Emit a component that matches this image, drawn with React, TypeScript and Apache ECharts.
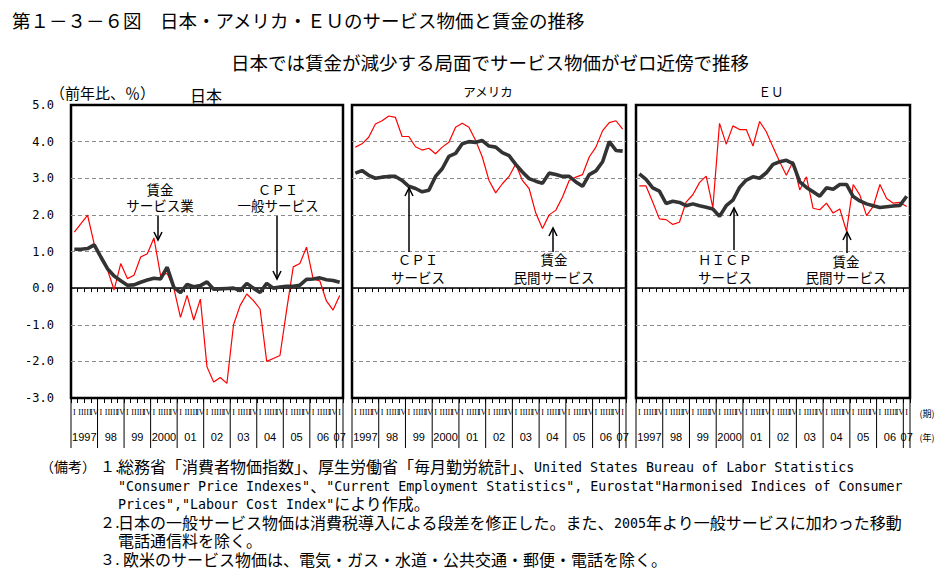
import { useEffect, useRef } from "react";
import * as echarts from "echarts";

// ---- data ----
const yearLabels = ["1997", "98", "99", "2000", "01", "02", "03", "04", "05", "06", "07"];
const quarterLabels = ["I", "II", "III", "IV"];
const quartersPerYear = [4, 4, 4, 4, 4, 4, 4, 4, 4, 4, 1];
const categories: string[] = [];
yearLabels.forEach((y, yi) => {
  for (let q = 0; q < quartersPerYear[yi]; q++) categories.push(`${y}-${quarterLabels[q]}`);
});

const panelTitles = ["日本", "アメリカ", "ＥＵ"];

// Japan: wage (service industry), CPI general services
const japanWage = [1.53, 1.76, 1.99, 1.2, 0.8, 0.5, -0.05, 0.67, 0.26, 0.35, 0.85, 0.94, 1.37, 0.35, 0.4, 0.0, -0.8, -0.2, -0.87, -0.3, -2.15, -2.56, -2.44, -2.6, -1.0, -0.47, -0.16, -0.34, -0.57, -2.0, -1.92, -1.84, -0.6, 0.58, 0.67, 1.12, 0.25, 0.2, -0.35, -0.6, -0.2];
const japanCPI = [1.06, 1.06, 1.08, 1.18, 0.85, 0.53, 0.33, 0.2, 0.08, 0.09, 0.16, 0.22, 0.27, 0.25, 0.57, 0.02, -0.12, 0.1, 0.04, 0.07, 0.17, -0.03, -0.02, -0.01, 0.0, -0.07, 0.13, 0.0, -0.12, 0.13, 0.0, 0.03, 0.05, 0.05, 0.08, 0.24, 0.25, 0.28, 0.23, 0.21, 0.16];
// USA: wage (private services), CPI services
const usWage = [3.85, 3.94, 4.12, 4.48, 4.57, 4.7, 4.66, 4.14, 4.14, 3.86, 3.77, 3.82, 3.67, 3.85, 3.98, 4.39, 4.5, 4.39, 4.03, 3.58, 2.94, 2.6, 2.85, 3.05, 3.39, 2.94, 2.72, 2.05, 1.63, 2.0, 2.13, 2.49, 2.94, 3.03, 3.1, 3.58, 3.85, 4.3, 4.52, 4.57, 4.34];
const usCPI = [3.14, 3.21, 3.08, 3.0, 3.03, 3.05, 3.05, 2.94, 2.78, 2.72, 2.63, 2.67, 3.05, 3.26, 3.6, 3.68, 3.94, 4.0, 3.98, 4.03, 3.88, 3.85, 3.7, 3.62, 3.38, 3.17, 2.99, 2.92, 2.86, 3.14, 3.1, 3.05, 3.05, 2.9, 2.78, 3.1, 3.2, 3.45, 4.0, 3.76, 3.74];
// EU: wage (private services), HICP services
const euWage = [2.79, 2.79, 2.35, 1.89, 1.87, 1.74, 1.8, 2.35, 2.55, 2.88, 3.06, 2.2, 4.5, 3.93, 4.43, 4.33, 4.33, 3.88, 4.55, 4.27, 3.85, 3.45, 3.08, 3.46, 2.68, 3.04, 2.18, 2.14, 2.32, 2.05, 2.16, 1.55, 2.83, 2.54, 1.98, 2.23, 2.83, 2.45, 2.32, 2.34, 2.23];
const euCPI = [3.12, 2.97, 2.74, 2.65, 2.31, 2.37, 2.34, 2.25, 2.3, 2.25, 2.21, 2.16, 1.96, 2.25, 2.4, 2.75, 2.95, 3.04, 3.0, 3.15, 3.38, 3.45, 3.49, 3.4, 2.9, 2.75, 2.63, 2.51, 2.74, 2.7, 2.83, 2.83, 2.5, 2.38, 2.3, 2.25, 2.2, 2.22, 2.24, 2.26, 2.51];

const wageSeries = [japanWage, usWage, euWage];
const cpiSeries = [japanCPI, usCPI, euCPI];
const yMin = -3;
const yMax = 5;
const yStep = 1;

const title = "第１－３－６図　日本・アメリカ・ＥＵのサービス物価と賃金の推移";
const subtitle = "日本では賃金が減少する局面でサービス物価がゼロ近傍で推移";
const unitLabel = "（前年比、％）";
const notes = [
  { num: "（備考）", numX: 40, text: "", x: 118 },
  { num: "１.", numX: 100, text: "総務省「消費者物価指数」、厚生労働省「毎月勤労統計」、United States Bureau of Labor Statistics", x: 118 },
  { num: "", numX: 0, text: "\"Consumer Price Indexes\"、\"Current Employment Statistics\", Eurostat\"Harmonised Indices of Consumer", x: 118 },
  { num: "", numX: 0, text: "Prices\",\"Labour Cost Index\"により作成。", x: 118 },
  { num: "２.", numX: 100, text: "日本の一般サービス物価は消費税導入による段差を修正した。また、2005年より一般サービスに加わった移動", x: 118 },
  { num: "", numX: 0, text: "電話通信料を除く。", x: 118 },
  { num: "３.", numX: 100, text: "欧米のサービス物価は、電気・ガス・水道・公共交通・郵便・電話を除く。", x: 123 },
];
const annotations = [
  { lines: ["賃金", "サービス業"], tx: 160, ty: [190, 206], ax: 158, from: 216, tip: 240 },
  { lines: ["ＣＰＩ", "一般サービス"], tx: 278, ty: [190, 206], ax: 277, from: 216, tip: 279 },
  { lines: ["ＣＰＩ", "サービス"], tx: 418, ty: [260, 278], ax: 409, from: 252, tip: 188 },
  { lines: ["賃金", "民間サービス"], tx: 554, ty: [260, 278], ax: 553, from: 252, tip: 228 },
  { lines: ["ＨＩＣＰ", "サービス"], tx: 725, ty: [260, 278], ax: 734, from: 250, tip: 208 },
  { lines: ["賃金", "民間サービス"], tx: 846, ty: [262, 278], ax: 847, from: 253, tip: 232 },
];

const JP = '"Noto Sans CJK JP", sans-serif';
const JPT = '"DejaVu Sans", "Noto Sans CJK JP", sans-serif';
const MONO = '"DejaVu Sans Mono", "Liberation Mono", monospace';

function richify(s: string) {
  return s.replace(/[\x20-\x7e]+/g, (m) => `{l|${m}}`);
}

export default function App() {
  const ref = useRef<HTMLDivElement>(null);
  useEffect(() => {
    document.body.style.margin = "0";
    const el = ref.current!;
    const chart = echarts.init(el, null, { renderer: "svg" });
    const grids = [
      { left: 71, top: 105, width: 272, height: 293 },
      { left: 352, top: 105, width: 274, height: 293 },
      { left: 636, top: 105, width: 274, height: 293 },
    ];
    const xAxes: any[] = [];
    const yAxes: any[] = [];
    const series: any[] = [];
    grids.forEach((_, k) => {
      xAxes.push({
        type: "category", gridIndex: k, data: categories, position: "bottom", boundaryGap: true,
        axisLine: { show: false, onZero: false },
        axisTick: { show: true, interval: 0, length: 5, lineStyle: { color: "#000", width: 1 } },
        axisLabel: {
          show: true, interval: 0, margin: 10, fontSize: 8, fontFamily: '"Liberation Serif", serif', color: "#000",
          formatter: (v: string) => v.split("-")[1],
        },
        splitLine: { show: false },
      });
      xAxes.push({
        type: "category", gridIndex: k, data: categories, position: "top", boundaryGap: true,
        axisLine: { show: true, onZero: true, lineStyle: { color: "#000", width: 1.5 } },
        axisTick: { show: true, inside: true, interval: 0, length: 4, lineStyle: { color: "#000", width: 1 } },
        axisLabel: { show: false },
        splitLine: { show: false },
      });
      yAxes.push({
        type: "value", gridIndex: k, min: yMin, max: yMax, interval: yStep,
        axisLine: { show: false }, axisTick: { show: false },
        axisLabel: {
          show: k === 0, formatter: (v: number) => v.toFixed(1), fontSize: 12, fontFamily: MONO, color: "#000", margin: 17,
        },
        splitLine: { show: true, showMinLine: false, showMaxLine: false, lineStyle: { type: [4, 3], color: "#8c8c8c", width: 1 } },
      });
      series.push({
        type: "line", xAxisIndex: 2 * k, yAxisIndex: k, data: wageSeries[k], showSymbol: false, symbol: "none",
        lineStyle: { color: "#ff0000", width: 1.2 }, z: 3,
      });
      series.push({
        type: "line", xAxisIndex: 2 * k, yAxisIndex: k, data: cpiSeries[k], showSymbol: false, symbol: "none",
        lineStyle: { color: "#333333", width: 3.6 }, z: 4,
      });
    });
    chart.setOption({
      animation: false,
      backgroundColor: "#ffffff",
      grid: grids.map((g) => ({ ...g, show: true, borderColor: "#000", borderWidth: 2.5, backgroundColor: "transparent" })),
      xAxis: xAxes,
      yAxis: yAxes,
      series,
    });

    const gr: any[] = [];
    const txt = (text: string, x: number, y: number, fontSize: number, align = "left", fontFamily = JP, extra: any = {}) => ({
      type: "text", x, y, z: 10,
      style: { text, fontSize, fontFamily, fill: "#000", align, verticalAlign: "middle", ...extra },
    });
    gr.push(txt(title, 12, 20, 18.5));
    gr.push(txt(subtitle, 490, 62, 18.5, "center"));
    gr.push(txt(unitLabel, 50, 92, 15));
    gr.push(txt(panelTitles[0], 206, 95, 16, "center"));
    gr.push(txt(panelTitles[1], 488, 91, 12.5, "center"));
    gr.push(txt(panelTitles[2], 771, 91, 12.5, "center"));
    gr.push(txt("(期)", 927, 413, 9, "center"));
    gr.push(txt("(年)", 927, 437, 9, "center"));

    const noteYs = [467, 467, 486, 504, 523, 541, 560];
    notes.forEach((n, i) => {
      if (n.num) gr.push(txt(n.num, n.numX, noteYs[i], i === 0 ? 14 : 15, "left", JPT, { lineHeight: 16 }));
      if (n.text)
        gr.push(txt(richify(n.text), n.x, noteYs[i], 16, "left", JPT, {
          lineHeight: 16,
          rich: { l: { fontFamily: MONO, fontSize: 13.3, fill: "#000", lineHeight: 16 } },
        }));
    });

    annotations.forEach((a) => {
      a.lines.forEach((l, li) => gr.push(txt(l, a.tx, a.ty[li], 13.5, "center", JPT, { lineHeight: 14 })));
      gr.push({ type: "line", z: 10, shape: { x1: a.ax, y1: a.from, x2: a.ax, y2: a.tip }, style: { stroke: "#000", lineWidth: 1.5 } });
      const d = a.tip > a.from ? -8 : 8;
      gr.push({
        type: "polyline", z: 10,
        shape: { points: [[a.ax - 4, a.tip + d], [a.ax, a.tip], [a.ax + 4, a.tip + d]] },
        style: { stroke: "#000", lineWidth: 1.5, fill: "none" },
      });
    });

    for (let k = 0; k < 3; k++) {
      const ax = 2 * k;
      const p0 = chart.convertToPixel({ xAxisIndex: ax }, categories[0]) as number;
      const p1 = chart.convertToPixel({ xAxisIndex: ax }, categories[1]) as number;
      const w = p1 - p0;
      const bottom = chart.convertToPixel({ yAxisIndex: k }, yMin) as number;
      let start = 0;
      yearLabels.forEach((y, yi) => {
        const n = quartersPerYear[yi];
        const xl = (chart.convertToPixel({ xAxisIndex: ax }, categories[start]) as number) - w / 2;
        const xr = (chart.convertToPixel({ xAxisIndex: ax }, categories[start + n - 1]) as number) + w / 2;
        gr.push({ type: "line", z: 10, shape: { x1: xl, y1: bottom, x2: xl, y2: bottom + 50 }, style: { stroke: "#000", lineWidth: 1 } });
        if (yi === yearLabels.length - 1)
          gr.push({ type: "line", z: 10, shape: { x1: xr, y1: bottom, x2: xr, y2: bottom + 50 }, style: { stroke: "#000", lineWidth: 1 } });
        gr.push(txt(y, (xl + xr) / 2, bottom + 39, 11, "center", '"Liberation Sans", sans-serif'));
        start += n;
      });
    }
    chart.setOption({ graphic: gr });
    return () => chart.dispose();
  }, []);
  return <div ref={ref} style={{ width: 946, height: 586 }} />;
}
